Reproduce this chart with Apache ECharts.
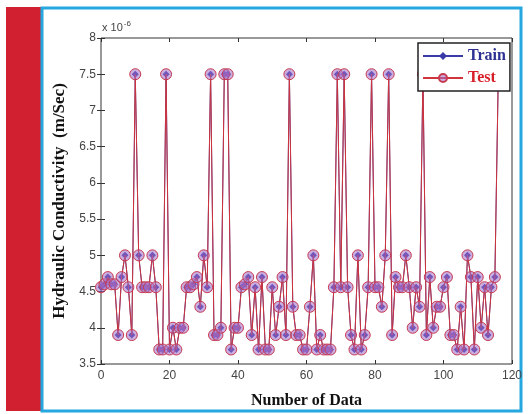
<!DOCTYPE html>
<html>
<head>
    <meta charset="utf-8">
    <title>Hydraulic Conductivity</title>
    <script src="https://cdn.jsdelivr.net/npm/echarts@6/dist/echarts.min.js"></script>
    <style>
        html, body { margin: 0; padding: 0; background: #fff; }
    </style>
</head>
<body>
    <div id="main" style="width: 531px;height:414px;"></div>
    <script type="text/javascript">
    var myChart = echarts.init(document.getElementById('main'));

// values in units of 1e-6 m/Sec, one per data number (0..116)
var trainValues = [4.56,4.6,4.7,4.6,4.6,3.9,4.7,5.0,4.56,3.9,
    7.5,5.0,4.56,4.56,4.56,5.0,4.56,3.7,3.7,7.5,
    3.7,4.0,3.7,4.0,4.0,4.56,4.56,4.6,4.7,4.29,
    5.0,4.56,7.5,3.9,3.9,4.0,7.5,7.5,3.7,4.0,
    4.0,4.56,4.6,4.7,3.9,4.56,3.7,4.7,3.7,3.7,
    4.56,3.9,4.29,4.7,3.9,7.5,4.29,3.9,3.9,3.7,
    3.7,4.29,5.0,3.7,3.9,3.7,3.7,3.7,4.56,7.5,
    4.56,7.5,4.56,3.9,3.7,5.0,3.7,3.9,4.56,7.5,
    4.56,4.56,4.29,5.0,7.5,3.9,4.7,4.56,4.56,5.0,
    4.56,4.0,4.56,4.29,7.5,3.9,4.7,4.0,4.29,4.29,
    4.56,4.7,3.9,3.9,3.7,4.29,3.7,5.0,4.7,3.7,
    4.7,4.0,4.56,3.9,4.56,4.7,7.5];
var testValues = [4.56,4.6,4.7,4.6,4.6,3.9,4.7,5.0,4.56,3.9,
    7.5,5.0,4.56,4.56,4.56,5.0,4.56,3.7,3.7,7.5,
    3.7,4.0,3.7,4.0,4.0,4.56,4.56,4.6,4.7,4.29,
    5.0,4.56,7.5,3.9,3.9,4.0,7.5,7.5,3.7,4.0,
    4.0,4.56,4.6,4.7,3.9,4.56,3.7,4.7,3.7,3.7,
    4.56,3.9,4.29,4.7,3.9,7.5,4.29,3.9,3.9,3.7,
    3.7,4.29,5.0,3.7,3.9,3.7,3.7,3.7,4.56,7.5,
    4.56,7.5,4.56,3.9,3.7,5.0,3.7,3.9,4.56,7.5,
    4.56,4.56,4.29,5.0,7.5,3.9,4.7,4.56,4.56,5.0,
    4.56,4.0,4.56,4.29,7.5,3.9,4.7,4.0,4.29,4.29,
    4.56,4.7,3.9,3.9,3.7,4.29,3.7,5.0,4.7,3.7,
    4.7,4.0,4.56,3.9,4.56,4.7,7.5];
var seriesNames = ['Train', 'Test'];

var toPoints = function (arr) {
    return arr.map(function (v, i) { return [i, v]; });
};

var serif = '"Liberation Serif", "DejaVu Serif", serif';
var sans = '"Liberation Sans", Arial, sans-serif';

var tickAxis = {
    axisLine: { show: false },
    axisTick: { show: true, inside: true, length: 4, lineStyle: { color: '#333' } },
    splitLine: { show: false }
};

option = {
    backgroundColor: '#fff',
    animation: false,
    graphic: [
        { type: 'rect', shape: { x: 6, y: 7, width: 35, height: 404 }, style: { fill: '#d12130' }, z: 0 },
        { type: 'rect', shape: { x: 42, y: 8, width: 479, height: 403 },
          style: { fill: 'none', stroke: '#25a8e0', lineWidth: 3 }, z: 0 },
        { type: 'text', left: 102, top: 20, z: 10,
          style: { text: '{a|x 10}{b|-6}', rich: {
              a: { fontFamily: sans, fontSize: 11, fill: '#444' },
              b: { fontFamily: sans, fontSize: 8, fill: '#444', verticalAlign: 'top', padding: [0, 0, 8, 1] } } } }
    ],
    grid: {
        left: 101, right: 19, top: 38, bottom: 47,
        show: true, borderColor: '#333', borderWidth: 1, backgroundColor: '#fff'
    },
    legend: {
        data: [
            { name: 'Train', textStyle: { color: '#2e3192' } },
            { name: 'Test', textStyle: { color: '#d71e28' } }
        ],
        orient: 'vertical',
        left: 418, top: 43,
        itemWidth: 40, itemHeight: 10, itemGap: 6,
        padding: [5, 4, 5, 4],
        backgroundColor: '#fff', borderColor: '#222', borderWidth: 1.5, borderRadius: 0,
        textStyle: { fontFamily: serif, fontWeight: 'bold', fontSize: 16 },
        z: 10
    },
    xAxis: [
        Object.assign({
            type: 'value', min: 0, max: 120, interval: 20,
            name: 'Number of Data', nameLocation: 'middle', nameGap: 29,
            nameTextStyle: { fontFamily: serif, fontWeight: 'bold', fontSize: 16, color: '#111' },
            axisLabel: { fontFamily: sans, fontSize: 12, color: '#444', margin: 6 }
        }, tickAxis),
        Object.assign({
            type: 'value', min: 0, max: 120, interval: 20, position: 'top',
            axisLabel: { show: false }
        }, tickAxis)
    ],
    yAxis: [
        Object.assign({
            type: 'value', min: 3.5, max: 8, interval: 0.5,
            name: 'Hydraulic Conductivity  (m/Sec)', nameLocation: 'middle', nameGap: 32,
            nameTextStyle: { fontFamily: serif, fontWeight: 'bold', fontSize: 17, color: '#111' },
            axisLabel: { fontFamily: sans, fontSize: 12, color: '#444', margin: 5 }
        }, tickAxis),
        Object.assign({
            type: 'value', min: 3.5, max: 8, interval: 0.5, position: 'right',
            axisLabel: { show: false }
        }, tickAxis)
    ],
    series: [
        {
            name: seriesNames[0], type: 'line', data: toPoints(trainValues),
            symbol: 'diamond', symbolSize: 7, showAllSymbol: true,
            lineStyle: { color: '#3b3ba8', width: 1 },
            itemStyle: { color: '#3b3ba8' },
            z: 2
        },
        {
            name: seriesNames[1], type: 'line', data: toPoints(testValues),
            symbol: 'circle', symbolSize: 11, showAllSymbol: true,
            lineStyle: { color: '#d0343c', width: 1 },
            itemStyle: { color: 'rgba(160,110,200,0.55)', borderColor: '#c83a50', borderWidth: 1 },
            z: 3
        }
    ]
};

        myChart.setOption(option);
    </script>
</body>
</html>
